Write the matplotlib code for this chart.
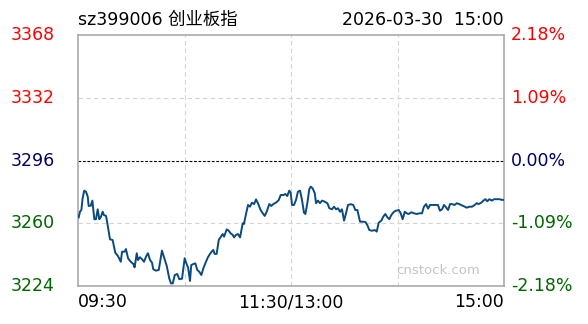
import matplotlib.pyplot as plt

# Intraday data: minutes since 09:30 (lunch break removed), index level
minutes = [0.4, 1.1, 1.9, 2.6, 3.5, 4.5, 5.5, 6.0, 7.2, 8.1, 9.2, 10.1, 11.1, 12.0, 12.8,
           13.9, 14.6, 15.8, 16.7, 18.0, 19.5, 21.0, 22.5, 24.1, 24.8, 26.3, 27.0, 28.2,
           29.7, 31.2, 31.9, 33.1, 33.8, 34.9, 36.1, 37.2, 38.3, 39.4, 40.6, 41.7, 42.4,
           43.9, 45.5, 47.3, 48.8, 50.0, 51.4, 52.4, 53.4, 54.5, 55.9, 57.1, 58.6, 60.1,
           61.4, 62.0, 63.1, 63.8, 65.0, 66.1, 67.2, 68.3, 69.5, 70.6, 72.1, 73.2, 74.8,
           76.2, 77.0, 78.1, 79.3, 80.3, 81.5, 82.3, 83.8, 84.9, 86.0, 87.2, 87.9, 89.0,
           90.1, 91.3, 92.8, 93.5, 94.6, 95.8, 96.9, 98.0, 99.2, 100.3, 101.4, 102.9,
           104.1, 105.2, 106.3, 107.8, 108.9, 110.0, 111.5, 113.1, 114.2, 115.7, 116.8,
           117.9, 119.0, 119.8, 120.6, 121.7, 122.8, 123.9, 125.1, 126.2, 127.3, 128.1,
           129.2, 130.3, 131.1, 132.2, 133.4, 134.1, 135.2, 136.3, 137.5, 139.0, 140.5,
           141.6, 143.1, 144.2, 145.4, 146.5, 147.6, 148.7, 149.9, 151.0, 152.1, 153.6,
           155.1, 156.2, 157.4, 158.9, 160.4, 161.9, 163.0, 164.1, 165.6, 167.2, 168.3,
           169.4, 170.9, 172.0, 173.1, 174.3, 175.4, 176.5, 178.0, 179.2, 180.7, 181.8,
           182.9, 184.1, 185.2, 186.3, 187.8, 189.3, 190.8, 192.3, 193.8, 194.9, 196.1,
           197.2, 198.3, 199.8, 201.3, 202.8, 203.9, 205.1, 206.2, 207.3, 208.5, 209.6,
           210.7, 212.2, 213.4, 214.8, 216.3, 217.9, 219.0, 220.5, 222.0, 223.5, 224.6,
           225.7, 227.2, 228.4, 229.5, 230.6, 231.7, 233.2, 234.4, 235.9, 237.4, 238.9, 240.0]
prices = [3263.4, 3266.6, 3267.6, 3274.3, 3278.7, 3278.1, 3275.2, 3269.9, 3270.1, 3273.0,
          3262.3, 3262.3, 3268.0, 3262.3, 3263.4, 3266.6, 3264.7, 3264.2, 3259.0, 3250.8,
          3250.4, 3243.1, 3241.2, 3237.9, 3243.7, 3243.7, 3245.2, 3239.9, 3237.9, 3236.6,
          3234.7, 3242.8, 3238.9, 3240.5, 3239.3, 3237.9, 3240.8, 3242.8, 3238.9, 3237.4,
          3233.6, 3232.8, 3233.2, 3244.3, 3239.3, 3235.5, 3228.4, 3225.5, 3225.5, 3230.3,
          3230.9, 3227.9, 3228.2, 3239.9, 3236.0, 3234.7, 3226.9, 3236.0, 3236.6, 3237.0,
          3233.2, 3232.2, 3230.3, 3234.1, 3237.9, 3240.5, 3243.1, 3244.7, 3242.4, 3242.4,
          3250.4, 3251.9, 3253.8, 3252.3, 3256.5, 3255.7, 3254.2, 3253.3, 3251.9, 3253.3,
          3253.8, 3251.9, 3260.0, 3259.6, 3265.1, 3270.5, 3269.5, 3271.8, 3271.0, 3273.7,
          3271.4, 3267.6, 3265.7, 3264.2, 3266.6, 3271.0, 3269.9, 3271.0, 3271.8, 3273.3,
          3276.2, 3276.2, 3276.8, 3275.6, 3278.7, 3277.5, 3270.5, 3270.5, 3273.3, 3278.1,
          3278.7, 3273.3, 3266.1, 3265.3, 3271.5, 3279.5, 3281.0, 3280.0, 3277.2, 3271.5,
          3273.0, 3271.5, 3273.0, 3272.4, 3271.5, 3268.6, 3268.0, 3269.5, 3268.0, 3268.6,
          3266.6, 3268.0, 3261.5, 3265.7, 3270.5, 3270.9, 3270.5, 3267.6, 3267.6, 3260.9,
          3260.9, 3260.7, 3259.0, 3256.1, 3255.7, 3256.1, 3255.2, 3260.3, 3261.5, 3263.8,
          3265.3, 3263.4, 3262.3, 3264.7, 3266.6, 3267.2, 3267.6, 3265.7, 3262.3, 3266.6,
          3265.7, 3265.3, 3266.3, 3265.7, 3265.3, 3265.7, 3265.7, 3269.5, 3271.0, 3268.4,
          3270.5, 3270.5, 3270.5, 3270.5, 3267.2, 3268.0, 3270.5, 3269.2, 3267.6, 3271.0,
          3271.0, 3270.5, 3271.5, 3271.0, 3270.3, 3269.5, 3268.9, 3269.5, 3269.5, 3270.5,
          3271.5, 3271.0, 3271.8, 3273.0, 3273.8, 3272.6, 3273.8, 3273.0, 3273.8, 3273.8,
          3273.8, 3273.4, 3273.4]

prev_close = 3296
left_ticks = [3368, 3332, 3296, 3260, 3224]
right_ticks = ['2.18%', '1.09%', '0.00%', '-1.09%', '-2.18%']
tick_colors = ['#ff0000', '#ff0000', '#000066', '#006600', '#006600']
x_ticks = [0, 120, 240]
x_labels = ['09:30', '11:30/13:00', '15:00']
x_grid = [60, 120, 180]
y_grid = [3332, 3260]

fonts = ['DejaVu Sans', 'Noto Sans CJK SC']
plt.rcParams['font.family'] = fonts

fig = plt.figure(figsize=(5.88, 3.24), dpi=100, facecolor='white')
ax = fig.add_axes([78 / 588, 1 - 286 / 324, 426 / 588, 251 / 324])
ax.set_xlim(0, 240)
ax.set_ylim(3224, 3368)

for gx in x_grid:
    ax.axvline(gx, color='#d4d4d4', linewidth=0.8, linestyle=(0, (4, 3)), zorder=1)
for gy in y_grid:
    ax.axhline(gy, color='#d4d4d4', linewidth=0.8, linestyle=(0, (4, 3)), zorder=1)
ax.axhline(prev_close, color='black', linewidth=0.8, linestyle=(0, (2.5, 1.5)), zorder=2)

ax.plot(minutes, prices, color='#0b4a7e', linewidth=1.4, zorder=3)

for spine in ax.spines.values():
    spine.set_color('#aaaaaa')
    spine.set_linewidth(1.2)
ax.set_xticks([])
ax.set_yticks([])

# left price labels and right percent labels
for val, pct, col in zip(left_ticks, right_ticks, tick_colors):
    ax.text(-0.055, (val - 3224) / 144, str(val), transform=ax.transAxes,
            ha='right', va='center', fontsize=12.5, color=col)
    ax.text(1.016, (val - 3224) / 144, pct, transform=ax.transAxes,
            ha='left', va='center', fontsize=12.5, color=col)

aligns = ['left', 'center', 'right']
for xt, lab, al in zip(x_ticks, x_labels, aligns):
    ax.text(xt, -0.064, lab, transform=ax.get_xaxis_transform(),
            ha=al, va='center', fontsize=12.5, color='black')

fig.text(78 / 588, 1 - 20 / 324, 'sz399006 创业板指', ha='left', va='center',
         fontsize=12.5, color='black', family=fonts)
fig.text(504 / 588, 1 - 20 / 324, '2026-03-30  15:00', ha='right', va='center',
         fontsize=12.5, color='black')

ax.text(0.846, 0.06, 'cnstock.com', transform=ax.transAxes, ha='center', va='center',
        fontsize=9.5, color='#c4c4c4')

plt.savefig('out.png', dpi=100, facecolor='white')
